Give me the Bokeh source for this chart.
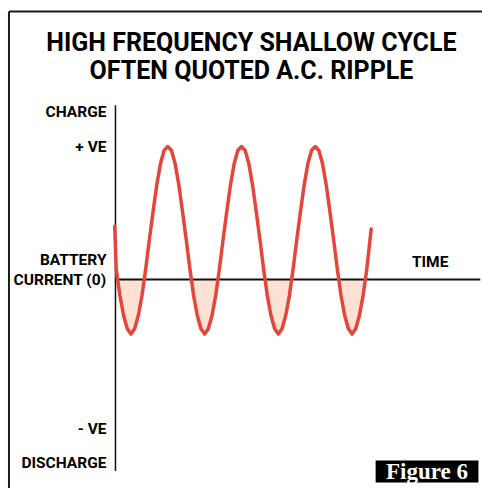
from bokeh.plotting import figure
from bokeh.models import Range1d
from bokeh.core.properties import value
from bokeh.embed import file_html
from bokeh.resources import INLINE
import numpy as np

# ---- data ----
# time in arbitrary units (one ripple period = 10), current in arbitrary units (+VE peak = 10)
time = [-0.1, 0.1, 0.6, 1.1, 1.6, 2.1, 2.6, 3.1, 3.6, 4.1, 4.6, 5.1, 5.6, 6.1, 6.6,
        7.1, 7.6, 8.1, 8.6, 9.1, 9.6, 10.1, 10.6, 11.1, 11.6, 12.1, 12.6, 13.1, 13.6,
        14.1, 14.6, 15.1, 15.6, 16.1, 16.6, 17.1, 17.6, 18.1, 18.6, 19.1, 19.6, 20.1,
        20.6, 21.1, 21.6, 22.1, 22.6, 23.1, 23.6, 24.1, 24.6, 25.1, 25.6, 26.1, 26.6,
        27.1, 27.6, 28.1, 28.6, 29.1, 29.6, 30.1, 30.6, 31.1, 31.6, 32.1, 32.6, 33.1,
        33.6, 34.1, 34.7]
current = [4.0, 0.8, -1.2, -2.7, -3.7, -4.1, -3.7, -2.7, -1.2, 0.8, 3.0, 5.1, 7.1, 8.7, 9.7,
           10.0, 9.7, 8.7, 7.1, 5.1, 3.0, 0.8, -1.2, -2.7, -3.7, -4.1, -3.7, -2.7, -1.2,
           0.8, 3.0, 5.1, 7.1, 8.7, 9.7, 10.0, 9.7, 8.7, 7.1, 5.1, 3.0, 0.8,
           -1.2, -2.7, -3.7, -4.1, -3.7, -2.7, -1.2, 0.8, 3.0, 5.1, 7.1, 8.7, 9.7,
           10.0, 9.7, 8.7, 7.1, 5.1, 3.0, 0.8, -1.2, -2.7, -3.7, -4.1, -3.7, -2.7,
           -1.2, 0.8, 3.8]

level_labels = ["CHARGE", "+ VE", "BATTERY", "CURRENT (0)", "- VE", "DISCHARGE"]
level_values = [12.6, 10.0, 1.5, 0.0, -11.2, -13.8]

axis_top = 13.1
axis_bottom = -14.4
time_end = 49.5

time_label = "TIME"
time_label_pos = (42.7, 1.3)

title_lines = ["HIGH FREQUENCY SHALLOW CYCLE", "OFTEN QUOTED A.C. RIPPLE"]
title_x = 18.45
title_y = [17.8, 15.75]

badge_text = "Figure 6"
badge_box = dict(left=35.3, right=49.25, top=-13.6, bottom=-15.25)

frame_left = -14.45
frame_top = 20.15

X0, X1 = -15.60, 49.80
Y0, Y1 = -15.71, 20.98

SANS = value("Roboto")

p = figure(width=482, height=488, output_backend="svg", toolbar_location=None,
           x_range=Range1d(X0, X1), y_range=Range1d(Y0, Y1),
           x_axis_location=None, y_axis_location=None,
           min_border=0, outline_line_color=None)
p.grid.visible = False
p.background_fill_color = "white"
p.border_fill_color = "white"

# outer frame (top and left edges)
p.segment(x0=[frame_left, frame_left], y0=[frame_top, frame_top],
          x1=[X1, frame_left], y1=[frame_top, Y0],
          line_color="#1a1a1a", line_width=2)

# discharge fill
y_neg = np.minimum(np.array(current), 0.0)
p.varea(x=time, y1=y_neg, y2=0.0, fill_color="#fde1d3", fill_alpha=1.0)

# axes
p.segment(x0=[0], y0=[axis_bottom], x1=[0], y1=[axis_top], line_color="#111111", line_width=1.5)
p.segment(x0=[0], y0=[0], x1=[time_end], y1=[0], line_color="#111111", line_width=2)

# ripple
p.line(time, current, line_color="#e6453b", line_width=3.5, line_join="round", line_cap="round")

# level labels
p.text(x=[0] * len(level_labels), y=level_values, text=level_labels,
       text_align="right", text_baseline="middle", x_offset=-9,
       text_font=SANS, text_font_style="bold", text_font_size="15.5px", text_color="#000000")

p.text(x=[time_label_pos[0]], y=[time_label_pos[1]], text=[time_label],
       text_align="center", text_baseline="middle",
       text_font=SANS, text_font_style="bold", text_font_size="15.5px", text_color="#000000")

# title
p.text(x=[title_x, title_x], y=title_y, text=title_lines,
       text_align="center", text_baseline="middle",
       text_font=SANS, text_font_style="bold", text_font_size="25px", text_color="#000000")

# badge
p.quad(left=[badge_box["left"]], right=[badge_box["right"]],
       top=[badge_box["top"]], bottom=[badge_box["bottom"]],
       fill_color="black", line_color=None)
p.text(x=[(badge_box["left"] + badge_box["right"]) / 2], y=[(badge_box["top"] + badge_box["bottom"]) / 2],
       text=[badge_text], text_align="center", text_baseline="middle",
       text_font=value("Liberation Serif"), text_font_style="bold", text_font_size="23px",
       text_color="white")

open("out.html", "w").write(file_html(p, INLINE))
